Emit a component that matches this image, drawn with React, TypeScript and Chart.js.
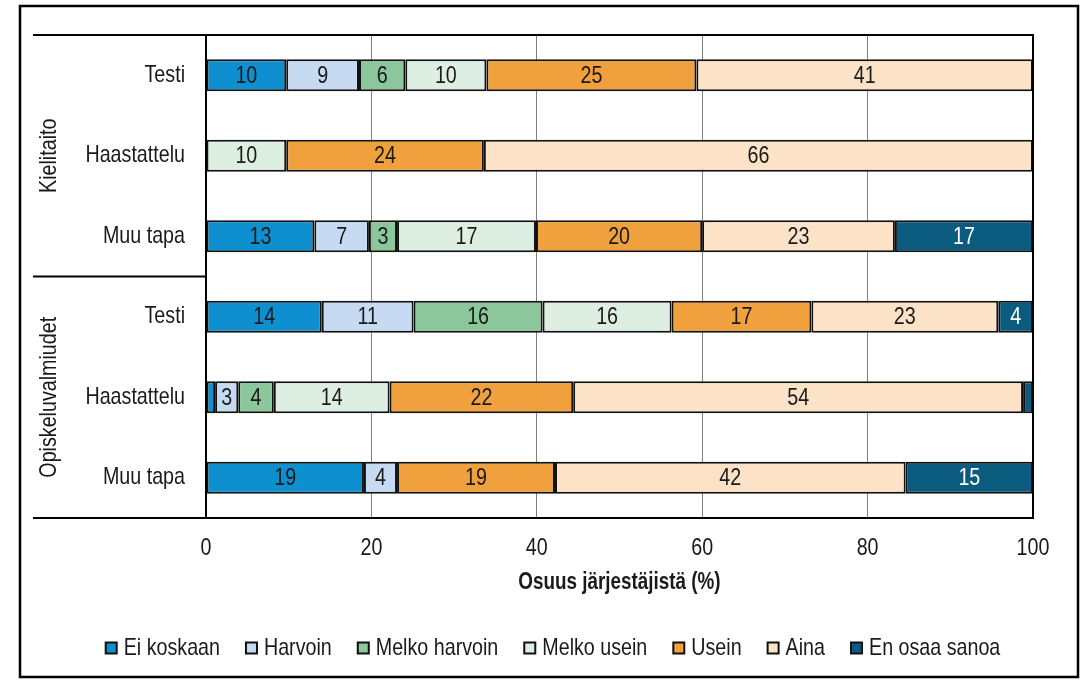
import React, { useEffect, useRef } from 'react';
import { Chart, registerables } from 'chart.js';

Chart.register(...registerables);

// Arial-Narrow look: Liberation Sans (Arial metrics) compressed horizontally
const FONT = "'Liberation Sans', Arial, sans-serif";
const NARROW = 0.82;
const TEXT = '#1a1a1a';

const categories = ['Testi', 'Haastattelu', 'Muu tapa', 'Testi', 'Haastattelu', 'Muu tapa'];
const groupNames = ['Kielitaito', 'Opiskeluvalmiudet'];
const seriesNames = ['Ei koskaan', 'Harvoin', 'Melko harvoin', 'Melko usein', 'Usein', 'Aina', 'En osaa sanoa'];
const eiKoskaan = [9.7, null, 13.1, 14.0, 1.1, 19.1];
const harvoin = [8.8, null, 6.6, 11.1, 2.8, 4.0];
const melkoHarvoin = [5.6, null, 3.4, 15.6, 4.3, null];
const melkoUsein = [9.8, 9.7, 16.8, 15.6, 14.0, null];
const usein = [25.4, 23.9, 20.1, 16.9, 22.2, 19.1];
const aina = [40.7, 66.4, 23.3, 22.6, 54.4, 42.4];
const enOsaaSanoa = [null, null, 16.7, 4.2, 1.2, 15.4];
const xTicks = [0, 20, 40, 60, 80, 100];
const xTitle = 'Osuus järjestäjistä (%)';

const seriesValues = [eiKoskaan, harvoin, melkoHarvoin, melkoUsein, usein, aina, enOsaaSanoa];
const seriesColors = ['#0E8FD0', '#C6DAF1', '#8BC79B', '#DDEEE2', '#F0A03C', '#FCE3C8', '#0B5B7E'];
const labelColors = [TEXT, TEXT, TEXT, TEXT, TEXT, TEXT, '#ffffff'];

function narrowText(
  ctx: CanvasRenderingContext2D,
  text: string,
  x: number,
  y: number,
  opts: { size: number; align?: CanvasTextAlign; bold?: boolean; color?: string; rotate?: number }
) {
  ctx.save();
  ctx.translate(x, y);
  if (opts.rotate) ctx.rotate(opts.rotate);
  ctx.scale(NARROW, 1);
  ctx.font = `${opts.bold ? 'bold ' : ''}${opts.size}px ${FONT}`;
  ctx.textAlign = opts.align || 'center';
  ctx.textBaseline = 'middle';
  ctx.fillStyle = opts.color || TEXT;
  ctx.fillText(text, 0, 0);
  ctx.restore();
}

function narrowWidth(ctx: CanvasRenderingContext2D, text: string, size: number, bold = false) {
  ctx.save();
  ctx.font = `${bold ? 'bold ' : ''}${size}px ${FONT}`;
  const w = ctx.measureText(text).width * NARROW;
  ctx.restore();
  return w;
}

const framePlugin = {
  id: 'frame',
  beforeDraw(chart: any) {
    const { ctx } = chart;
    ctx.save();
    ctx.fillStyle = '#ffffff';
    ctx.fillRect(0, 0, chart.width, chart.height);
    ctx.strokeStyle = '#000000';
    ctx.lineWidth = 2.5;
    ctx.strokeRect(20, 6, 1058, 671);
    ctx.restore();
  },
};

const valueLabelPlugin = {
  id: 'valueLabels',
  afterDatasetsDraw(chart: any) {
    const { ctx } = chart;
    chart.data.datasets.forEach((ds: any, di: number) => {
      const meta = chart.getDatasetMeta(di);
      meta.data.forEach((el: any, i: number) => {
        const v = ds.data[i];
        if (v == null || v < 2) return;
        const p = el.getProps(['x', 'y', 'base'], true);
        narrowText(ctx, String(Math.round(v)), (p.x + p.base) / 2, p.y + 1, { size: 24, color: labelColors[di] });
      });
    });
  },
};

const axesTextPlugin = {
  id: 'axesText',
  afterDraw(chart: any) {
    const { ctx, chartArea } = chart;
    const y = chart.scales.y;
    const x = chart.scales.x;
    const leftX = y.left;
    ctx.save();
    ctx.strokeStyle = '#000000';
    ctx.lineWidth = 2;
    ctx.strokeRect(chartArea.left, chartArea.top, chartArea.right - chartArea.left, chartArea.bottom - chartArea.top);
    const mid = (y.getPixelForTick(2) + y.getPixelForTick(3)) / 2;
    ctx.beginPath();
    [chartArea.top, mid, chartArea.bottom].forEach((yy: number) => {
      ctx.moveTo(leftX, yy);
      ctx.lineTo(chartArea.left, yy);
    });
    ctx.stroke();
    ctx.restore();

    // category labels
    categories.forEach((c, i) => {
      narrowText(ctx, c, chartArea.left - 21, y.getPixelForTick(i), { size: 24, align: 'right' });
    });
    // group labels
    const centers = [(chartArea.top + mid) / 2, (mid + chartArea.bottom) / 2];
    groupNames.forEach((g, gi) => {
      narrowText(ctx, g, leftX + 16, centers[gi], { size: 24, rotate: -Math.PI / 2 });
    });
    // x tick labels
    xTicks.forEach((t) => {
      narrowText(ctx, String(t), x.getPixelForValue(t), chartArea.bottom + 30, { size: 24 });
    });
    // x title
    narrowText(ctx, xTitle, (chartArea.left + chartArea.right) / 2, chartArea.bottom + 65, { size: 23, bold: true });

    // legend
    const size = 24;
    const box = 11;
    const boxGap = 7;
    const itemGap = 26;
    const widths = seriesNames.map((n) => narrowWidth(ctx, n, size));
    const total = widths.reduce((a, b) => a + b, 0) + seriesNames.length * (box + boxGap) + (seriesNames.length - 1) * itemGap;
    let cx = 553 - total / 2;
    const ly = 648;
    seriesNames.forEach((n, i) => {
      ctx.save();
      ctx.fillStyle = seriesColors[i];
      ctx.fillRect(cx, ly - box / 2, box, box);
      ctx.strokeStyle = '#111111';
      ctx.lineWidth = 2;
      ctx.strokeRect(cx, ly - box / 2, box, box);
      ctx.restore();
      narrowText(ctx, n, cx + box + boxGap, ly, { size, align: 'left' });
      cx += box + boxGap + widths[i] + itemGap;
    });
  },
};

export default function App() {
  const ref = useRef<HTMLCanvasElement | null>(null);
  useEffect(() => {
    if (!ref.current) return;
    const chart = new Chart(ref.current, {
      type: 'bar',
      data: {
        labels: categories,
        datasets: seriesNames.map((name, i) => ({
          label: name,
          data: seriesValues[i],
          backgroundColor: seriesColors[i],
          borderColor: '#111111',
          borderWidth: 2,
          borderSkipped: false,
          categoryPercentage: 1,
          barPercentage: 0.4,
        })),
      },
      options: {
        indexAxis: 'y',
        animation: false,
        responsive: true,
        maintainAspectRatio: false,
        layout: { padding: { left: 33, right: 51, top: 35, bottom: 0 } },
        plugins: {
          tooltip: { enabled: false },
          legend: { display: false },
        },
        scales: {
          x: {
            stacked: true,
            min: 0,
            max: 100,
            afterBuildTicks(scale: any) {
              scale.ticks = xTicks.map((v) => ({ value: v }));
            },
            afterFit(scale: any) {
              scale.height = 164;
            },
            grid: { color: '#808080', lineWidth: 1, drawTicks: false },
            border: { display: false },
            ticks: { display: false },
          },
          y: {
            stacked: true,
            afterFit(scale: any) {
              scale.width = 173;
            },
            grid: { display: false, drawTicks: false },
            border: { display: false },
            ticks: { display: false },
          },
        },
      },
      plugins: [framePlugin, valueLabelPlugin, axesTextPlugin],
    } as any);
    return () => chart.destroy();
  }, []);
  return (
    <div style={{ position: 'absolute', left: 0, top: 0, width: 1084, height: 682 }}>
      <canvas ref={ref} />
    </div>
  );
}
